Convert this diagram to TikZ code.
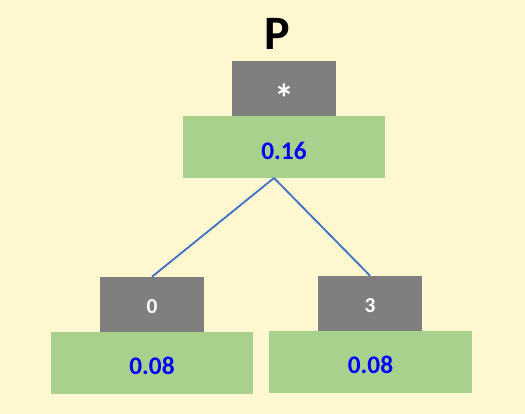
\documentclass[tikz,border=0pt]{standalone}
\usepackage{fontspec}
\setmainfont{Carlito}
\definecolor{bg}{HTML}{FFF7D0}
\definecolor{boxgray}{HTML}{7F7F7F}
\definecolor{boxgreen}{HTML}{A9D18E}
\definecolor{txtblue}{HTML}{0000FF}
\definecolor{linkblue}{HTML}{4472C4}
\begin{document}
\begin{tikzpicture}[x=0.75pt,y=-0.75pt,
  keybox/.style={fill=boxgray,draw=none,inner sep=0pt,minimum width=104*0.75pt,minimum height=55*0.75pt},
  valbox/.style={fill=boxgreen,draw=none,inner sep=0pt,minimum width=202*0.75pt,minimum height=62*0.75pt},
  keytext/.style={text=white,inner sep=0pt,font=\bfseries\fontsize{16}{18}\selectfont},
  valtext/.style={text=txtblue,inner sep=0pt,font=\bfseries\fontsize{19}{22}\selectfont},
  link/.style={draw=linkblue,line width=1.4pt}]
\fill[bg] (0,0) rectangle (525,414);
\useasboundingbox (0,0) rectangle (525,414);
% top
\node[font=\bfseries\fontsize{36}{40}\selectfont] (title) at (277,34) {P};
\node[keybox] (k1) at (284,88.5) {};
\node[keytext,font=\bfseries\fontsize{30}{32}\selectfont] (k1t) at (284,98) {*};
\node[valbox] (v1) at (284,147) {};
\node[valtext] (v1t) at (284,151) {0.16};
% bottom left
\node[keybox] (k2) at (152,304.5) {};
\node[keytext] (k2t) at (152,307) {0};
\node[valbox] (v2) at (152,363) {};
\node[valtext] (v2t) at (152,366) {0.08};
% bottom right
\node[keybox] (k3) at (370,303.5) {};
\node[keytext] (k3t) at (370,306) {3};
\node[valbox,minimum width=203*0.75pt] (v3) at (370.5,362) {};
\node[valtext] (v3t) at (370.5,365) {0.08};
% connectors
\coordinate (apex) at (274,178);
\draw[link] (apex) -- (k2.north);
\draw[link] (apex) -- (k3.north);
\end{tikzpicture}
\end{document}
